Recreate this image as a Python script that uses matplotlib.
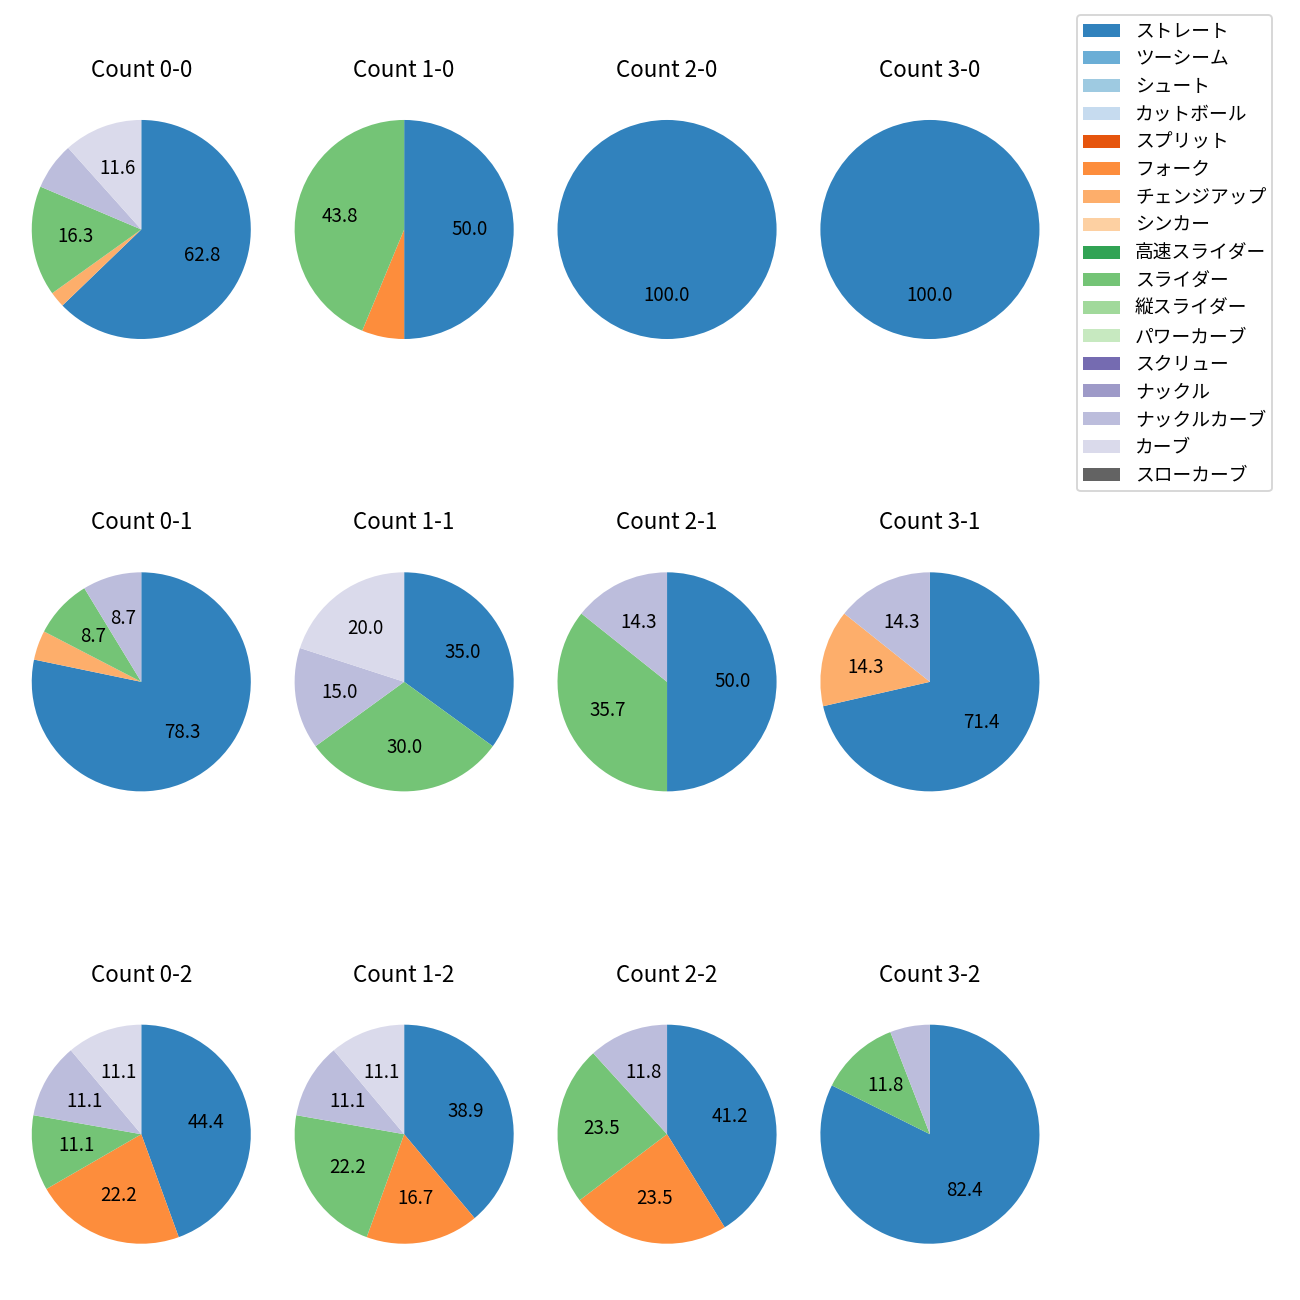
import matplotlib
matplotlib.use("Agg")
import matplotlib.pyplot as plt
from matplotlib.patches import Patch

plt.rcParams['font.family'] = ['Noto Sans CJK JP', 'DejaVu Sans']

pitch_types = ['ストレート', 'ツーシーム', 'シュート', 'カットボール', 'スプリット', 'フォーク',
               'チェンジアップ', 'シンカー', '高速スライダー', 'スライダー', '縦スライダー',
               'パワーカーブ', 'スクリュー', 'ナックル', 'ナックルカーブ', 'カーブ', 'スローカーブ']

# pitch counts per ball-strike count, in pitch_types order
#                 St Tw Sh Cu Sp Fo Ch Si HS Sl VS PC Sc Kn KC Cv SC
count_0_0 = [27, 0, 0, 0, 0, 0, 1, 0, 0, 7, 0, 0, 0, 0, 3, 5, 0]
count_1_0 = [8, 0, 0, 0, 0, 1, 0, 0, 0, 7, 0, 0, 0, 0, 0, 0, 0]
count_2_0 = [5, 0, 0, 0, 0, 0, 0, 0, 0, 0, 0, 0, 0, 0, 0, 0, 0]
count_3_0 = [3, 0, 0, 0, 0, 0, 0, 0, 0, 0, 0, 0, 0, 0, 0, 0, 0]
count_0_1 = [18, 0, 0, 0, 0, 0, 1, 0, 0, 2, 0, 0, 0, 0, 2, 0, 0]
count_1_1 = [7, 0, 0, 0, 0, 0, 0, 0, 0, 6, 0, 0, 0, 0, 3, 4, 0]
count_2_1 = [7, 0, 0, 0, 0, 0, 0, 0, 0, 5, 0, 0, 0, 0, 2, 0, 0]
count_3_1 = [5, 0, 0, 0, 0, 0, 1, 0, 0, 0, 0, 0, 0, 0, 1, 0, 0]
count_0_2 = [4, 0, 0, 0, 0, 2, 0, 0, 0, 1, 0, 0, 0, 0, 1, 1, 0]
count_1_2 = [7, 0, 0, 0, 0, 3, 0, 0, 0, 4, 0, 0, 0, 0, 2, 2, 0]
count_2_2 = [7, 0, 0, 0, 0, 4, 0, 0, 0, 4, 0, 0, 0, 0, 2, 0, 0]
count_3_2 = [14, 0, 0, 0, 0, 0, 0, 0, 0, 2, 0, 0, 0, 0, 1, 0, 0]

grid = [
    [('Count 0-0', count_0_0), ('Count 1-0', count_1_0), ('Count 2-0', count_2_0), ('Count 3-0', count_3_0)],
    [('Count 0-1', count_0_1), ('Count 1-1', count_1_1), ('Count 2-1', count_2_1), ('Count 3-1', count_3_1)],
    [('Count 0-2', count_0_2), ('Count 1-2', count_1_2), ('Count 2-2', count_2_2), ('Count 3-2', count_3_2)],
]

cmap = plt.get_cmap('tab20c')
colors = [cmap(i) for i in range(len(pitch_types))]

DPI = 135
fig, axes = plt.subplots(3, 4, figsize=(1300 / DPI, 1300 / DPI), dpi=DPI)
fig.subplots_adjust(left=0.016, right=0.808, top=0.935, bottom=0.016, wspace=0.091, hspace=0.56)

def fmt(p):
    return f'{p:.1f}' if p >= 8 else ''

for r, row in enumerate(grid):
    for c, (title, vals) in enumerate(row):
        ax = axes[r][c]
        ax.pie(vals, colors=colors, startangle=90, counterclock=False,
               autopct=fmt, textprops={'fontsize': 10})
        ax.axis('equal')
        ax.set_title(title, fontsize=12, pad=4)

handles = [Patch(facecolor=colors[i], label=pitch_types[i]) for i in range(len(pitch_types))]
fig.legend(handles=handles, loc='upper left', bbox_to_anchor=(1077 / 1300, 1 - 15 / 1300),
           borderaxespad=0, fontsize=10, labelspacing=0.36, borderpad=0.3)

fig.savefig('out.png', dpi=DPI)
